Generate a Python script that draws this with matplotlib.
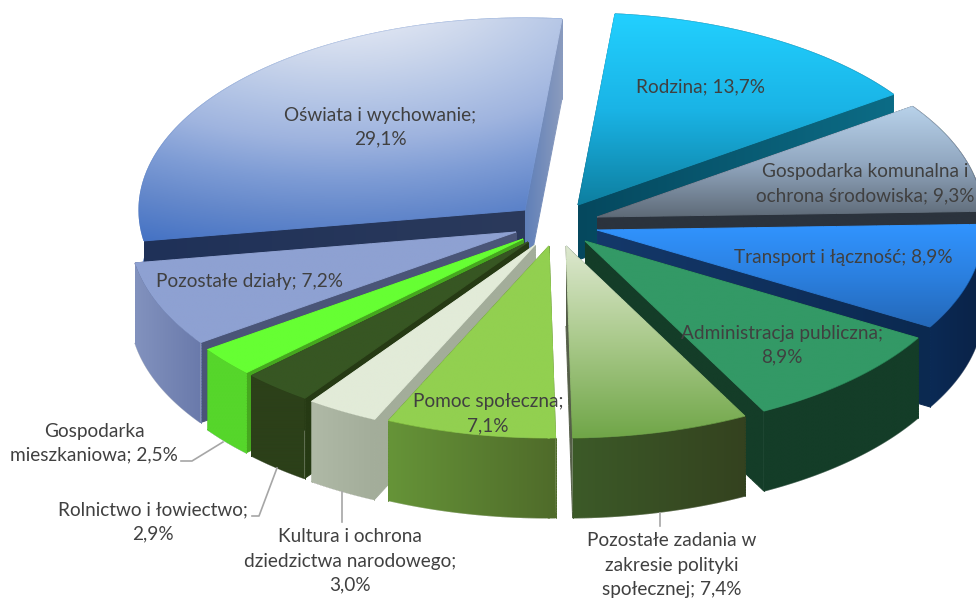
import numpy as np
import matplotlib
matplotlib.use("Agg")
import matplotlib.pyplot as plt
from matplotlib.collections import LineCollection
from matplotlib.colors import LinearSegmentedColormap
from matplotlib.patches import Polygon

plt.rcParams['font.family'] = ['Lato', 'DejaVu Sans']

# data, clockwise from the top
values = [13.7, 9.3, 8.9, 8.9, 7.4, 7.1, 3.0, 2.9, 2.5, 7.2, 29.1]
label_fmt = [
    "Rodzina; {}",
    "Gospodarka komunalna i\nochrona środowiska; {}",
    "Transport i łączność; {}",
    "Administracja publiczna;\n{}",
    "Pozostałe zadania w\nzakresie polityki\nspołecznej; {}",
    "Pomoc społeczna;\n{}",
    "Kultura i ochrona\ndziedzictwa narodowego;\n{}",
    "Rolnictwo i łowiectwo;\n{}",
    "Gospodarka\nmieszkaniowa; {}",
    "Pozostałe działy; {}",
    "Oświata i wychowanie;\n{}",
]

# layout, in pixels of the picture
W, H = 976, 599
RX, RY = 386, 192
START = 5.5
apex_x = [578, 597, 597, 585, 566, 549, 535, 528, 523, 516, 525]
apex_y = [205, 217, 230, 241, 246, 246, 245, 242, 239, 232, 210]
depth = [55, 80, 80, 80, 80, 80, 80, 80, 80, 80, 80]
draw_order = [10, 0, 1, 2, 9, 8, 7, 6, 3, 5, 4]
label_x = [700, 865, 843, 782, 672, 488, 350, 153, 94, 250, 380]
label_y = [87, 184, 258, 345, 565, 414, 561, 522, 443, 282, 127]
leaders = [
    ([181, 192, 223], [461, 461, 442]),
    ([252, 259, 277], [516, 516, 468]),
    ([342, 342], [492, 522]),
    ([660, 660], [513, 526]),
]

# colours: top goes top to bottom, walls go left to right
top_cols = [
    ['#22D0FF', '#1AB4E6', '#0E7FA0'],
    ['#B8D2EA', '#93A9C2', '#5F6B78'],
    ['#3194FF', '#2B80E0', '#2468B8'],
    ['#339966', '#339966'],
    ['#DDE8CF', '#A9C98A', '#70A648'],
    ['#92D050', '#92D050'],
    ['#E2EBD8', '#E2EBD8'],
    ['#375623', '#375623'],
    ['#66FF33', '#66FF33'],
    ['#8EA1D2', '#8EA1D2'],
    [(0, '#EEF1F8'), (0.16, '#E0E6F3'), (0.29, '#CCD7EC'), (0.43, '#B5C6E6'),
     (0.57, '#9FB4DF'), (0.71, '#7E9CD5'), (0.84, '#6488CB'), (1, '#4472C4')],
]
# only the biggest slice is shaded round a point: x, y, radius, x squeeze
top_radial = {10: (340, -20, 280, 0.5)}
start_cols = [
    ['#05485E', '#0C6C86'],
    ['#2B333D', '#2B333D'],
    ['#2B333D', '#2B333D'],
    ['#143D28', '#143D28'],
    ['#143D28', '#143D28'],
    ['#4F6B2A', '#4F6B2A'],
    ['#A3AD9A', '#A3AD9A'],
    ['#263A14', '#263A14'],
    ['#46A81F', '#46A81F'],
    ['#4A5578', '#4A5578'],
    ['#1F3158', '#2B3A5C'],
]
end_cols = [
    ['#05485E', '#0C6C86'],
    ['#2B333D', '#2B333D'],
    ['#14386A', '#0B2950'],
    ['#143D28', '#143D28'],
    ['#555F48', '#555F48'],
    ['#4F6B2A', '#4F6B2A'],
    ['#A3AD9A', '#A3AD9A'],
    ['#263A14', '#263A14'],
    ['#46A81F', '#46A81F'],
    ['#4A5578', '#4A5578'],
    ['#5F7FB8', '#8A9BBE'],
]
outer_cols = [
    ['#0C6C86', '#0C6C86'],
    ['#2B333D', '#2B333D'],
    ['#0A2A55', '#0B2247'],
    ['#143D28', '#143D28'],
    ['#3C5A28', '#34421F'],
    ['#669438', '#4F6B2A'],
    ['#AFB9A6', '#A3AD9A'],
    ['#2C4019', '#2C4019'],
    ['#56D62B', '#56D62B'],
    ['#8292BE', '#6A7AAB'],
    ['#4F7BC6', '#4F7BC6'],
]


def gradient(ax, xs, ys, cols, vertical, z, radial=None):
    xs = np.asarray(xs, dtype=float)
    ys = np.asarray(ys, dtype=float)
    x0, x1, y0, y1 = xs.min(), xs.max(), ys.min(), ys.max()
    cmap = LinearSegmentedColormap.from_list('g', cols)

    def shade(px, py):
        if radial is not None:
            return np.hypot((px - radial[0]) * radial[3], py - radial[1]) / radial[2]
        if vertical:
            return (py - y0) / max(y1 - y0, 1)
        return (px - x0) / max(x1 - x0, 1)

    # picture a bit bigger than the polygon, its own border fades out
    gx, gy = np.meshgrid(np.linspace(x0 - 3, x1 + 3, 300), np.linspace(y0 - 3, y1 + 3, 300))
    poly = Polygon(np.column_stack([xs, ys]), closed=True, fc='none', ec='none', transform=ax.transData)
    ax.add_patch(poly)
    im = ax.imshow(shade(gx, gy), cmap=cmap, vmin=0, vmax=1, aspect='auto', interpolation='bilinear',
                   extent=(x0 - 3, x1 + 3, y1 + 3, y0 - 3), zorder=z)
    im.set_clip_path(poly)

    # coloured edge so the clipped picture is not jagged
    ex, ey = [], []
    for k in range(len(xs)):
        k2 = (k + 1) % len(xs)
        ex.extend(np.linspace(xs[k], xs[k2], 30))
        ey.extend(np.linspace(ys[k], ys[k2], 30))
    ex, ey = np.array(ex), np.array(ey)
    segs = np.stack([np.column_stack([ex[:-1], ey[:-1]]), np.column_stack([ex[1:], ey[1:]])], axis=1)
    ax.add_collection(LineCollection(segs, colors=cmap(shade(ex[:-1], ey[:-1])), linewidths=0.7, zorder=z))


def main():
    fig = plt.figure(figsize=(W / 100, H / 100), dpi=100)
    ax = fig.add_axes([0, 0, 1, 1])

    edges = START + np.concatenate([[0], np.cumsum(values)]) * 3.6

    z = 1
    for i in draw_order:
        th = np.radians(np.linspace(edges[i], edges[i + 1], 80))
        cx, cy = apex_x[i], apex_y[i]
        d = depth[i]
        rim_x = cx + RX * np.sin(th)
        rim_y = cy - RY * np.cos(th)

        wall_x = np.concatenate([rim_x, rim_x[::-1]])
        wall_y = np.concatenate([rim_y, rim_y[::-1] + d])
        radial_walls = [
            ([cx, rim_x[0], rim_x[0], cx], [cy, rim_y[0], rim_y[0] + d, cy + d], start_cols[i]),
            ([cx, rim_x[-1], rim_x[-1], cx], [cy, rim_y[-1], rim_y[-1] + d, cy + d], end_cols[i]),
        ]
        outer = (wall_x, wall_y, outer_cols[i])
        # back slices: rim wall goes behind the radial walls, front slices the other way
        if np.cos(th[len(th) // 2]) > 0:
            walls = [outer] + radial_walls
        else:
            walls = radial_walls + [outer]
        for wx, wy, wc in walls:
            gradient(ax, wx, wy, wc, False, z)
            z += 1

        top_x = np.concatenate([[cx], rim_x])
        top_y = np.concatenate([[cy], rim_y])
        gradient(ax, top_x, top_y, top_cols[i], True, z, radial=top_radial.get(i))
        z += 1

    for lx, ly in leaders:
        ax.plot(lx, ly, color='#A6A6A6', lw=1.2, zorder=z)

    for i, v in enumerate(values):
        txt = label_fmt[i].format(f"{v:.1f}".replace('.', ',') + '%')
        ax.text(label_x[i], label_y[i], txt, ha='center', va='center', fontsize=13.7,
                color='#404040', linespacing=1.5, zorder=z + 1)

    ax.set_xlim(0, W)
    ax.set_ylim(H, 0)
    ax.axis('off')
    fig.savefig('out.png', dpi=100, facecolor='white')


if __name__ == "__main__":
    main()
